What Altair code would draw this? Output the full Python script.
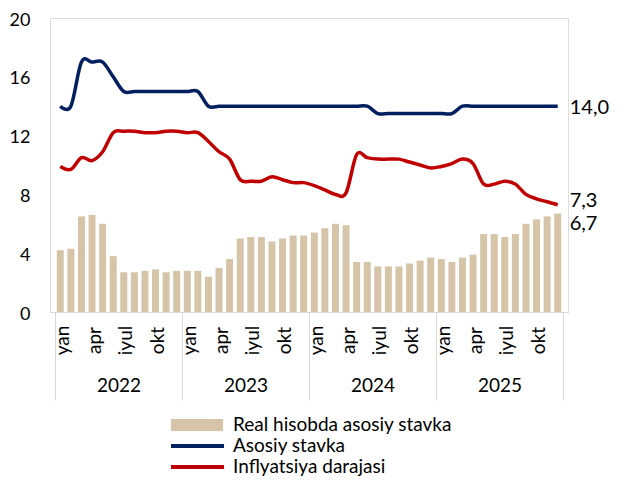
import altair as alt
import pandas as pd

FONT = "Lato"

years = ["2022", "2023", "2024", "2025"]
month_labels = ["yan", "apr", "iyul", "okt"]
series_names = ["Real hisobda asosiy stavka", "Asosiy stavka", "Inflyatsiya darajasi"]
series_colors = ["#d5c4a7", "#002060", "#c00000"]

real_rate = [4.2, 4.3, 6.5, 6.6, 6.0, 3.8, 2.7, 2.7, 2.8, 2.9, 2.7, 2.8,
             2.8, 2.8, 2.4, 3.0, 3.6, 5.0, 5.1, 5.1, 4.8, 5.0, 5.2, 5.2,
             5.4, 5.7, 6.0, 5.9, 3.4, 3.4, 3.1, 3.1, 3.1, 3.3, 3.5, 3.7,
             3.6, 3.4, 3.7, 3.9, 5.3, 5.3, 5.1, 5.3, 6.0, 6.3, 6.5, 6.7]
key_rate = [14, 14, 17, 17, 17, 16, 15, 15, 15, 15, 15, 15,
            15, 15, 14, 14, 14, 14, 14, 14, 14, 14, 14, 14,
            14, 14, 14, 14, 14, 14, 13.5, 13.5, 13.5, 13.5, 13.5, 13.5,
            13.5, 13.5, 14, 14, 14, 14, 14, 14, 14, 14, 14, 14]
inflation = [9.9, 9.7, 10.5, 10.3, 10.9, 12.2, 12.3, 12.3, 12.2, 12.2, 12.3, 12.3,
             12.2, 12.2, 11.6, 10.9, 10.4, 9.0, 8.9, 8.9, 9.2, 9.0, 8.8, 8.8,
             8.6, 8.3, 8.0, 8.1, 10.7, 10.5, 10.4, 10.4, 10.4, 10.2, 10.0, 9.8,
             9.9, 10.1, 10.4, 10.1, 8.7, 8.7, 8.9, 8.7, 8.0, 7.7, 7.5, 7.3]

n = len(real_rate)
df = pd.DataFrame({"idx": list(range(n)), "real": real_rate, "key": key_rate, "infl": inflation})


def fmt(v):
    return f"{v:.1f}".replace(".", ",")


last_key = pd.DataFrame({"idx": [n - 1], "v": [key_rate[-1]], "label": [fmt(key_rate[-1])]})
last_infl = pd.DataFrame({"idx": [n - 1], "v": [inflation[-1]], "label": [fmt(inflation[-1])]})
last_real = pd.DataFrame({"idx": [n - 1], "v": [real_rate[-1]], "label": [fmt(real_rate[-1])]})
legend_df = pd.DataFrame({"series": series_names, "idx": [0] * 3, "v": [0] * 3})

xscale = alt.Scale(domain=[-0.5, n - 0.5], nice=False, zero=False)
yscale = alt.Scale(domain=[0, 20], nice=False, zero=True)

month_expr = "[" + ",".join(f"'{m}'" for m in month_labels) + "][floor((datum.value % 12) / 3)]"
year_expr = "[" + ",".join(f"'{y}'" for y in years) + "][floor(datum.value / 12)]"

month_axis = alt.Axis(
    orient="bottom", values=list(range(0, n, 3)), labelExpr=month_expr,
    labelAngle=270, labelAlign="center", labelBaseline="middle", labelPadding=28,
    labelOffset=2, ticks=False, tickSize=0, domain=True, domainColor="#d9d9d9",
    grid=False, title=None, labelFontSize=19, labelColor="#000000", labelFont=FONT,
    labelOverlap=False, labelFlush=False,
)
sep_axis = alt.Axis(
    orient="bottom", values=[-0.5 + 12 * k for k in range(len(years) + 1)], labels=False,
    ticks=True, tickSize=88, tickColor="#d9d9d9", tickWidth=1, domain=True,
    domainColor="#d9d9d9", grid=False, title=None,
)
year_axis = alt.Axis(
    orient="bottom", values=[5.5 + 12 * k for k in range(len(years))], labelExpr=year_expr,
    ticks=False, tickSize=0, domain=False, grid=False, title=None,
    labelPadding=73, labelBaseline="middle", labelAlign="center", labelFontSize=19,
    labelColor="#000000", labelFont=FONT, labelOverlap=False, labelFlush=False,
)
y_axis = alt.Axis(
    values=[0, 4, 8, 12, 16, 20], ticks=False, tickSize=0, domain=False, grid=False,
    title=None, labelFontSize=18, labelColor="#000000", labelFont=FONT, labelPadding=20,
    labelOffset=2, labelFlush=False,
)

bars = alt.Chart(df).mark_bar(size=7, color=series_colors[0]).encode(
    x=alt.X("idx:Q", scale=xscale, axis=month_axis),
    y=alt.Y("real:Q", scale=yscale, axis=y_axis),
)

key_line = alt.Chart(df).mark_line(
    color=series_colors[1], strokeWidth=3.5, interpolate="catmull-rom", tension=0
).encode(
    x=alt.X("idx:Q", scale=xscale, axis=sep_axis),
    y=alt.Y("key:Q", scale=yscale, axis=None),
)

infl_line = alt.Chart(df).mark_line(
    color=series_colors[2], strokeWidth=3.5, interpolate="catmull-rom", tension=0
).encode(
    x=alt.X("idx:Q", scale=xscale, axis=year_axis),
    y=alt.Y("infl:Q", scale=yscale, axis=None),
)


def end_label(data, dy):
    return alt.Chart(data).mark_text(
        align="left", baseline="middle", dx=12, dy=dy, fontSize=20, font=FONT, color="#000000"
    ).encode(
        x=alt.X("idx:Q", scale=xscale, axis=None),
        y=alt.Y("v:Q", scale=yscale, axis=None),
        text="label:N",
    )


lbl_key = end_label(last_key, 2)
lbl_infl = end_label(last_infl, -4)
lbl_real = end_label(last_real, 10)

bar_path = "M-1,-0.23H1V0.23H-1Z"
line_path = "M-1.04,-0.075H1.04V0.075H-1.04Z"

legend_props = dict(
    title=None, orient="none", legendX=121, legendY=397, direction="vertical",
    padding=0, clipHeight=20, rowPadding=1, labelFontSize=19, labelFont=FONT,
    labelColor="#000000", labelOffset=10, labelLimit=0, symbolSize=2704,
    symbolStrokeWidth=0, symbolOpacity=1,
)

legend_layer = alt.Chart(legend_df).transform_filter("false").mark_point(filled=True, opacity=1).encode(
    x=alt.X("idx:Q", scale=xscale, axis=None),
    y=alt.Y("v:Q", scale=yscale, axis=None),
    color=alt.Color(
        "series:N",
        scale=alt.Scale(domain=series_names, range=series_colors),
        legend=alt.Legend(**legend_props),
    ),
    shape=alt.Shape(
        "series:N",
        scale=alt.Scale(domain=series_names, range=[bar_path, line_path, line_path]),
        legend=alt.Legend(**legend_props),
    ),
)

chart = alt.layer(
    bars, key_line, infl_line, lbl_key, lbl_infl, lbl_real, legend_layer
).resolve_axis(
    x="independent", y="independent"
).properties(
    width=518, height=294,
    autosize=alt.AutoSizeParams(type="none"),
    padding={"left": 42, "top": 10, "right": 42, "bottom": 166},
).configure_view(
    stroke="#e3e3e3", strokeWidth=1
).configure(
    font=FONT
)

chart.save("out.html", embed_options={"renderer": "svg", "actions": False})
